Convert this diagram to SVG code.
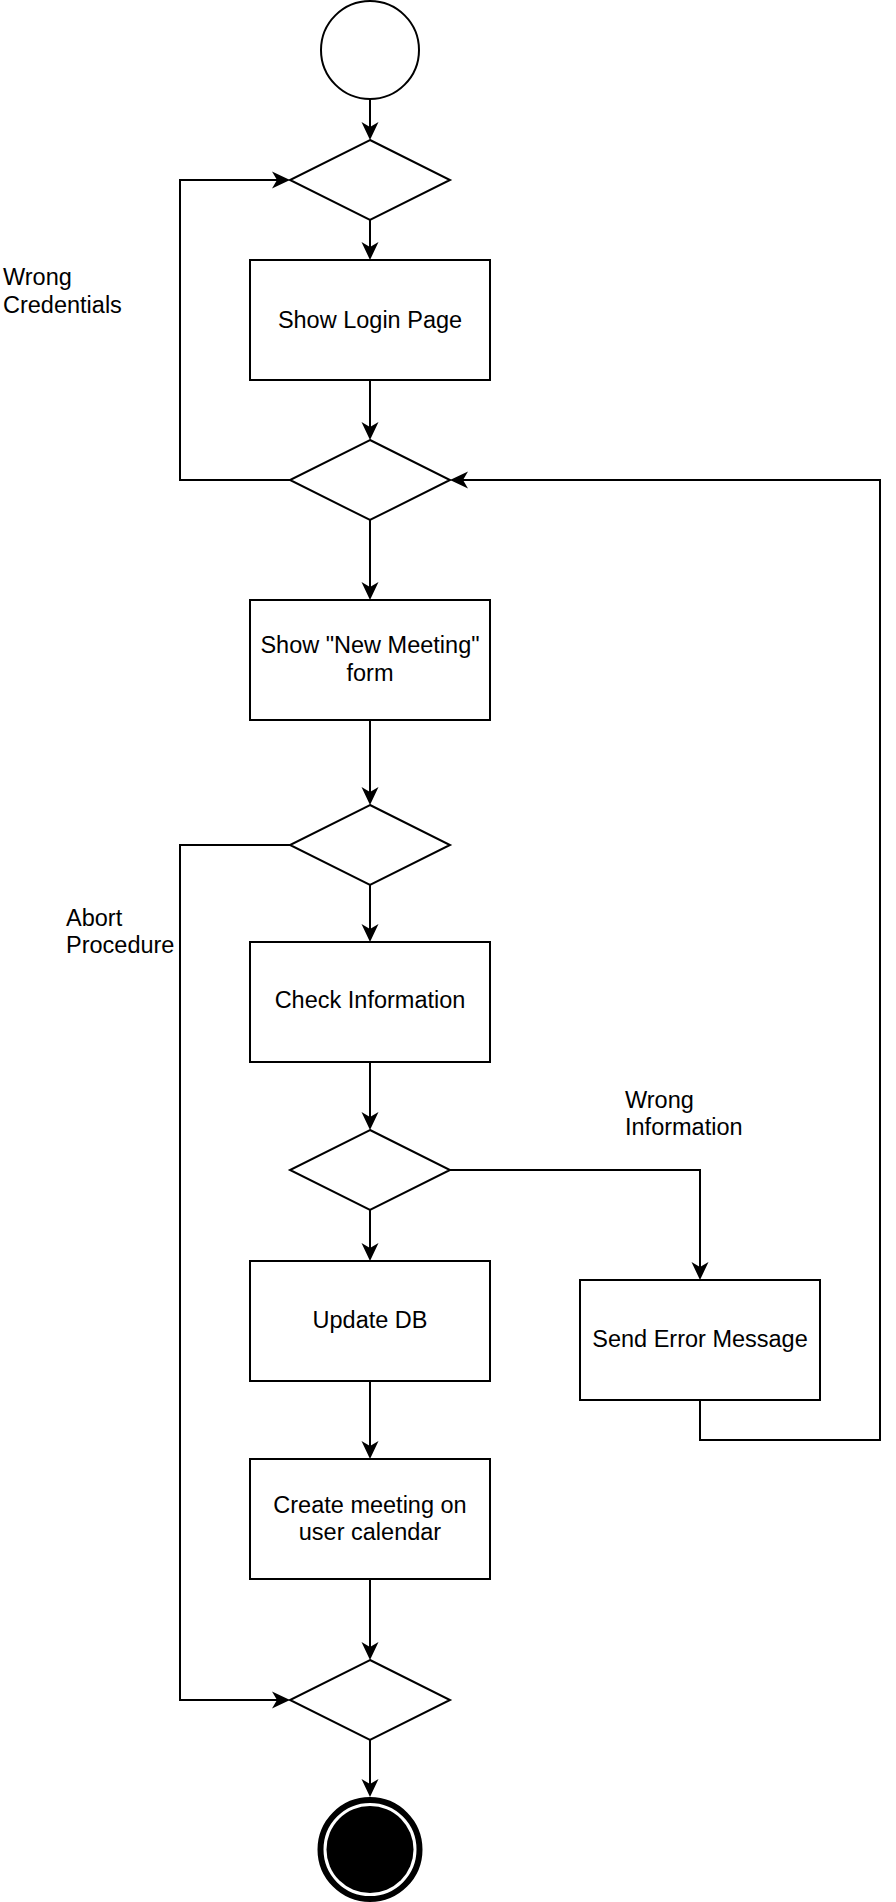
<svg xmlns="http://www.w3.org/2000/svg" width="896" height="1902" viewBox="0 0 896 1902">
<style>
.shape{fill:#fff;stroke:#000;stroke-width:2}
.edge{fill:none;stroke:#000;stroke-width:2}
.t{font-family:"Liberation Sans",Arial,Helvetica,sans-serif;font-size:23.5px;fill:#000}
.c{text-anchor:middle}
</style>
<defs>
<marker id="arr" viewBox="-6 -10 20 20" markerWidth="20" markerHeight="20" refX="0" refY="0" orient="auto" markerUnits="userSpaceOnUse">
<path d="M13,0 L-5,-8.5 L0,0 L-5,8.5 Z" fill="#000"/>
</marker>
</defs>
<rect width="896" height="1902" fill="#fff"/>
<g id="connectors">
<path class="edge" marker-end="url(#arr)" d="M370,100 L370,127"/>
<path class="edge" marker-end="url(#arr)" d="M370,220 L370,247"/>
<path class="edge" marker-end="url(#arr)" d="M370,380 L370,427"/>
<path class="edge" marker-end="url(#arr)" d="M370,520 L370,587"/>
<path class="edge" marker-end="url(#arr)" d="M370,720 L370,792"/>
<path class="edge" marker-end="url(#arr)" d="M370,885 L370,929"/>
<path class="edge" marker-end="url(#arr)" d="M370,1062 L370,1117"/>
<path class="edge" marker-end="url(#arr)" d="M370,1210 L370,1248"/>
<path class="edge" marker-end="url(#arr)" d="M450,1170 L700,1170 L700,1267"/>
<path class="edge" marker-end="url(#arr)" d="M370,1381 L370,1446"/>
<path class="edge" marker-end="url(#arr)" d="M370,1579 L370,1647"/>
<path class="edge" marker-end="url(#arr)" d="M370,1740 L370,1784"/>
<path class="edge" marker-end="url(#arr)" d="M290,480 L180,480 L180,180 L277,180"/>
<path class="edge" marker-end="url(#arr)" d="M290,845 L180,845 L180,1700 L277,1700"/>
<path class="edge" marker-end="url(#arr)" d="M700,1400 L700,1440 L880,1440 L880,480 L463,480"/>
</g>
<g id="start"><circle class="shape" cx="370" cy="50" r="49"/></g>
<g id="decision1"><polygon class="shape" points="370,140 450,180 370,220 290,180"/></g>
<g id="showLogin"><rect class="shape" x="250" y="260" width="240" height="120"/><text class="t c" x="370" y="328">Show Login Page</text></g>
<g id="decision2"><polygon class="shape" points="370,440 450,480 370,520 290,480"/></g>
<g id="showForm"><rect class="shape" x="250" y="600" width="240" height="120"/><text class="t c" x="370" y="653">Show "New Meeting"</text><text class="t c" x="370" y="681">form</text></g>
<g id="decision3"><polygon class="shape" points="370,805 450,845 370,885 290,845"/></g>
<g id="checkInfo"><rect class="shape" x="250" y="942" width="240" height="120"/><text class="t c" x="370" y="1008">Check Information</text></g>
<g id="decision4"><polygon class="shape" points="370,1130 450,1170 370,1210 290,1170"/></g>
<g id="updateDB"><rect class="shape" x="250" y="1261" width="240" height="120"/><text class="t c" x="370" y="1328">Update DB</text></g>
<g id="sendError"><rect class="shape" x="580" y="1280" width="240" height="120"/><text class="t c" x="700" y="1347">Send Error Message</text></g>
<g id="createMeeting"><rect class="shape" x="250" y="1459" width="240" height="120"/><text class="t c" x="370" y="1513">Create meeting on</text><text class="t c" x="370" y="1540">user calendar</text></g>
<g id="decision5"><polygon class="shape" points="370,1660 450,1700 370,1740 290,1700"/></g>
<g id="end"><circle cx="370" cy="1849.5" r="49.5" fill="#fff" stroke="#000" stroke-width="6"/><circle cx="370" cy="1849.5" r="43.5" fill="#000"/></g>
<g id="labels">
<text class="t" x="3" y="285">Wrong</text><text class="t" x="3" y="313">Credentials</text>
<text class="t" x="66" y="926">Abort</text><text class="t" x="66" y="953">Procedure</text>
<text class="t" x="625" y="1108">Wrong</text><text class="t" x="625" y="1135">Information</text>
</g>
</svg>
